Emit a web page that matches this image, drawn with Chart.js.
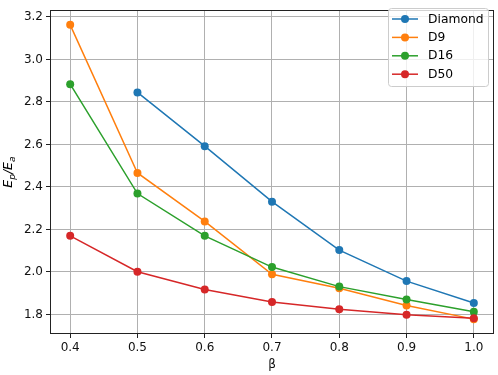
<!DOCTYPE html>
<html>
<head>
<meta charset="utf-8">
<script src="https://cdn.jsdelivr.net/npm/chart.js@4.4.1/dist/chart.umd.min.js"></script>
<style>
  body { margin: 0; background: #fff; }
  #wrap { width: 498px; height: 375px; position: relative; }
</style>
</head>
<body>
<div id="wrap"><canvas id="ratioChart"></canvas></div>
<script>
const betas = [0.4, 0.5, 0.6, 0.7, 0.8, 0.9, 1.0];
const diamond = [null, 2.845, 2.592, 2.331, 2.103, 1.957, 1.854];
const d9 = [3.163, 2.466, 2.238, 1.989, 1.923, 1.842, 1.778];
const d16 = [2.884, 2.369, 2.170, 2.023, 1.931, 1.870, 1.813];
const d50 = [2.170, 2.001, 1.917, 1.859, 1.824, 1.799, 1.782];
const xTicks = [0.4, 0.5, 0.6, 0.7, 0.8, 0.9, 1.0];
const yTicks = [1.8, 2.0, 2.2, 2.4, 2.6, 2.8, 3.0, 3.2];

const FONT = 'DejaVu Sans';

const toPoints = vals => betas
  .map((b, i) => ({ x: b, y: vals[i] }))
  .filter(p => p.y !== null);

const series = [
  { label: 'Diamond', values: diamond, color: '#1f77b4' },
  { label: 'D9', values: d9, color: '#ff7f0e' },
  { label: 'D16', values: d16, color: '#2ca02c' },
  { label: 'D50', values: d50, color: '#d62728' }
];

// full box around the plot area (all four spines)
const frame = {
  id: 'frame',
  afterDatasetsDraw(chart) {
    const { left, top, right, bottom } = chart.chartArea;
    const ctx = chart.ctx;
    ctx.save();
    ctx.strokeStyle = '#222';
    ctx.lineWidth = 1;
    ctx.strokeRect(Math.round(left) + 0.5, Math.round(top) + 0.5,
      Math.round(right - left) - 1, Math.round(bottom - top) - 1);
    ctx.restore();
  }
};

// matplotlib style legend box, top right
const boxLegend = {
  id: 'boxLegend',
  afterDraw(chart) {
    const ctx = chart.ctx;
    const x0 = 388, y0 = 8, w = 100, h = 78;
    ctx.save();
    ctx.beginPath();
    ctx.roundRect(x0 + 0.5, y0 + 0.5, w, h, 3);
    ctx.fillStyle = 'rgba(255,255,255,0.8)';
    ctx.fill();
    ctx.strokeStyle = '#cccccc';
    ctx.lineWidth = 1;
    ctx.stroke();
    chart.data.datasets.forEach((ds, i) => {
      const y = 19 + i * 18.4;
      ctx.strokeStyle = ds.borderColor;
      ctx.lineWidth = 1.5;
      ctx.beginPath();
      ctx.moveTo(392, y);
      ctx.lineTo(418, y);
      ctx.stroke();
      ctx.fillStyle = ds.borderColor;
      ctx.beginPath();
      ctx.arc(405, y, 4, 0, Math.PI * 2);
      ctx.fill();
      ctx.fillStyle = '#000';
      ctx.font = '12.3px "' + FONT + '"';
      ctx.textBaseline = 'middle';
      ctx.fillText(ds.label, 428, y + 0.5);
    });
    ctx.restore();
  }
};

// rotated y label E_p/E_a with italic letters and subscripts
const yLabel = {
  id: 'yLabel',
  afterDraw(chart) {
    const ctx = chart.ctx;
    const big = 'italic 12.5px "' + FONT + '"';
    const small = 'italic 9px "' + FONT + '"';
    const parts = [
      { t: 'E', f: big, dy: 0 },
      { t: 'p', f: small, dy: 2.5 },
      { t: '/', f: big, dy: 0 },
      { t: 'E', f: big, dy: 0 },
      { t: 'a', f: small, dy: 2.5 }
    ];
    let total = 0;
    parts.forEach(p => { ctx.font = p.f; p.w = ctx.measureText(p.t).width; total += p.w; });
    const cy = (chart.chartArea.top + chart.chartArea.bottom) / 2;
    ctx.save();
    ctx.translate(12, cy);
    ctx.rotate(-Math.PI / 2);
    ctx.fillStyle = '#000';
    ctx.textBaseline = 'alphabetic';
    let x = -total / 2;
    parts.forEach(p => {
      ctx.font = p.f;
      ctx.fillText(p.t, x, p.dy);
      x += p.w;
    });
    ctx.restore();
  }
};

const ctx = document.getElementById('ratioChart').getContext('2d');

new Chart(ctx, {
  type: 'line',
  data: {
    datasets: series.map((s, i) => ({
      label: s.label,
      data: toPoints(s.values),
      borderColor: s.color,
      backgroundColor: s.color,
      borderWidth: 1.5,
      pointRadius: 4,
      pointBorderWidth: 0,
      pointBackgroundColor: s.color,
      tension: 0,
      fill: false,
      order: series.length - i
    }))
  },
  options: {
    responsive: true,
    maintainAspectRatio: false,
    animation: false,
    layout: { padding: { left: 0, top: 3, right: 4, bottom: 0 } },
    plugins: {
      legend: { display: false },
      tooltip: { enabled: false }
    },
    scales: {
      x: {
        type: 'linear',
        min: 0.37,
        max: 1.03,
        afterBuildTicks: scale => { scale.ticks = xTicks.map(v => ({ value: v })); },
        afterFit: scale => { scale.height = 41; },
        grid: { color: '#b0b0b0', lineWidth: 1, tickLength: 4, tickColor: '#222' },
        border: { display: false },
        ticks: {
          color: '#111',
          padding: 3,
          maxRotation: 0,
          font: { family: FONT, size: 12 },
          callback: v => v.toFixed(1)
        },
        title: {
          display: true,
          text: 'β',
          color: '#111',
          font: { family: FONT, size: 12 },
          padding: { top: 0, bottom: 3 }
        }
      },
      y: {
        min: 1.708,
        max: 3.232,
        afterBuildTicks: scale => { scale.ticks = yTicks.map(v => ({ value: v })); },
        afterFit: scale => { scale.width = 50; },
        grid: { color: '#b0b0b0', lineWidth: 1, tickLength: 4, tickColor: '#222' },
        border: { display: false },
        ticks: {
          color: '#111',
          padding: 3,
          font: { family: FONT, size: 12 },
          callback: v => v.toFixed(1)
        }
      }
    }
  },
  plugins: [frame, boxLegend, yLabel]
});
</script>
</body>
</html>
